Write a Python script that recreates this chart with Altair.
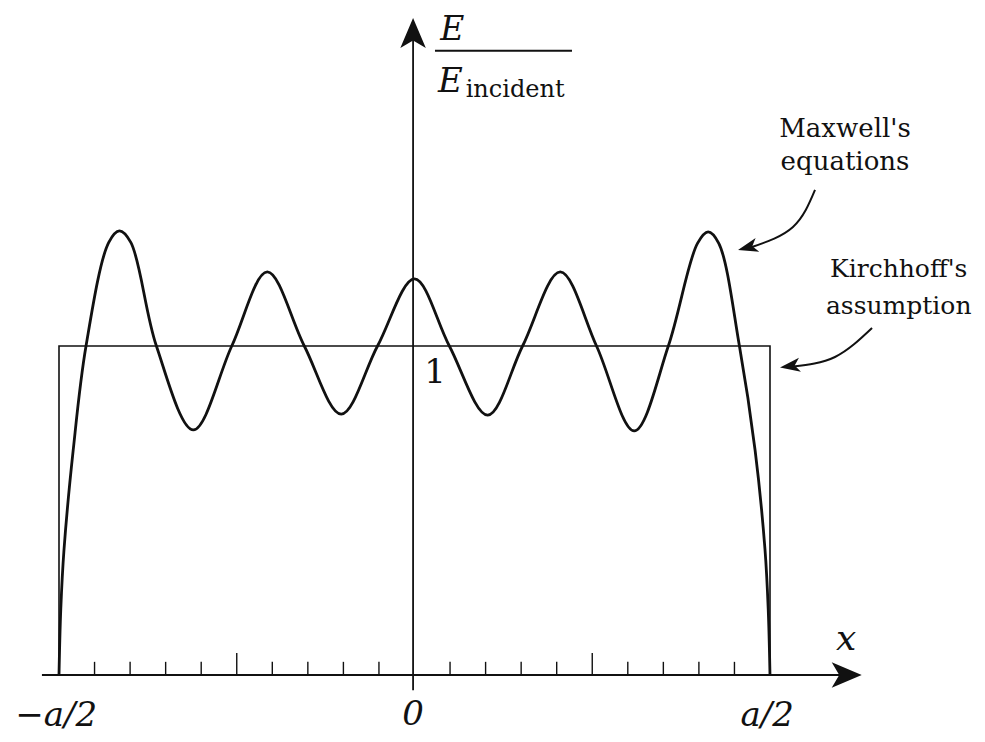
import altair as alt
import pandas as pd

# ---- data (x in units of a, y in units of E_incident) ----
maxwell_x = [-0.500, -0.4975, -0.493, -0.480, -0.462, -0.430, -0.415, -0.399, -0.363, -0.311,
             -0.257, -0.207, -0.155, -0.103, -0.052, 0.000, 0.049, 0.103, 0.152, 0.205,
             0.256, 0.309, 0.357, 0.398, 0.413, 0.428, 0.457, 0.479, 0.493, 0.4975, 0.500]
maxwell_y = [0.00, 0.20, 0.38, 0.684, 1.00, 1.315, 1.35, 1.315, 1.00, 0.745,
             1.00, 1.225, 1.00, 0.793, 1.00, 1.204, 1.00, 0.790, 1.00, 1.225,
             1.00, 0.742, 1.00, 1.312, 1.347, 1.312, 1.00, 0.684, 0.38, 0.20, 0.00]

kirchhoff_x = [-0.5, -0.5, 0.5, 0.5]
kirchhoff_y = [0.0, 1.0, 1.0, 0.0]

tick_x = [-0.45, -0.40, -0.35, -0.30, -0.25, -0.20, -0.15, -0.10, -0.05,
          0.05, 0.10, 0.15, 0.20, 0.25, 0.30, 0.35, 0.40, 0.45]
tick_len = [0.04, 0.04, 0.04, 0.04, 0.067, 0.04, 0.04, 0.04, 0.04,
            0.04, 0.04, 0.04, 0.04, 0.067, 0.04, 0.04, 0.04, 0.04]

axis_labels = ["\u2212a/2", "0", "a/2"]
axis_label_x = [-0.504, -0.002, 0.496]

# annotation curves (data coordinates)
mx_arrow_x = [0.5633, 0.5323, 0.4747]
mx_arrow_y = [1.4742, 1.3617, 1.3009]
kh_arrow_x = [0.6435, 0.5914, 0.5323]
kh_arrow_y = [1.0547, 0.9666, 0.9377]

# ---- scales ----
W, H = 969, 725
PX_X, PX_Y = 711.0, 329.0
X0 = -(414.5 - 8) / PX_X
X1 = X0 + W / PX_X
Y1 = (675 - 8) / PX_Y
Y0 = Y1 - H / PX_Y
xs = alt.Scale(domain=[X0, X1], nice=False, zero=False)
ys = alt.Scale(domain=[Y0, Y1], nice=False, zero=False)

def X(field):
    return alt.X(field, type="quantitative", scale=xs, axis=None)

def Y(field):
    return alt.Y(field, type="quantitative", scale=ys, axis=None)

INK = "#111111"
SERIF = "DejaVu Serif"

# Kirchhoff rectangle
kdf = pd.DataFrame({"x": kirchhoff_x, "y": kirchhoff_y, "i": range(len(kirchhoff_x))})
kirch = alt.Chart(kdf).mark_line(color=INK, strokeWidth=1.6).encode(
    x=X("x"), y=Y("y"), order="i:Q")

# Maxwell curve
mdf = pd.DataFrame({"x": maxwell_x, "y": maxwell_y, "i": range(len(maxwell_x))})
maxw = alt.Chart(mdf).mark_line(color=INK, strokeWidth=2.8, interpolate="catmull-rom").encode(
    x=X("x"), y=Y("y"), order="i:Q")

# axes
xaxis = alt.Chart(pd.DataFrame({"x": [-0.524], "x2": [0.60], "y": [0.0]})).mark_rule(
    color=INK, strokeWidth=2).encode(x=X("x"), x2="x2:Q", y=Y("y"))
yaxis = alt.Chart(pd.DataFrame({"x": [-0.002], "y": [-0.046], "y2": [1.95]})).mark_rule(
    color=INK, strokeWidth=1.8).encode(x=X("x"), y=Y("y"), y2="y2:Q")

tdf = pd.DataFrame({"x": tick_x, "y": [0.0] * len(tick_x), "y2": tick_len})
ticks = alt.Chart(tdf).mark_rule(color=INK, strokeWidth=1.4).encode(
    x=X("x"), y=Y("y"), y2="y2:Q")

# arrow heads (tip at the symbol origin, pointing up before rotation)
AX_HEAD = "M0,0 L0.85,2 L0,1.5 L-0.85,2 Z"
AN_HEAD = "M0,0 L0.6,1.7 L0,1.25 L-0.6,1.7 Z"
heads_df = pd.DataFrame({
    "x": [-0.002, 0.629],
    "y": [1.997, 0.0],
    "ang": [0, 90],
})
axis_heads = alt.Chart(heads_df).mark_point(
    shape=AX_HEAD, filled=True, color=INK, size=900, opacity=1).encode(
    x=X("x"), y=Y("y"), angle=alt.Angle("ang:Q", scale=None))

an_heads_df = pd.DataFrame({
    "x": [0.4550, 0.5141],
    "y": [1.2918, 0.9347],
    "ang": [255, 262],
})
ann_heads = alt.Chart(an_heads_df).mark_point(
    shape=AN_HEAD, filled=True, color=INK, size=560, opacity=1).encode(
    x=X("x"), y=Y("y"), angle=alt.Angle("ang:Q", scale=None))

# annotation curves
adf = pd.DataFrame({
    "x": mx_arrow_x + kh_arrow_x,
    "y": mx_arrow_y + kh_arrow_y,
    "g": ["m"] * 3 + ["k"] * 3,
    "i": [0, 1, 2, 0, 1, 2],
})
ann_lines = alt.Chart(adf).mark_line(color=INK, strokeWidth=2, interpolate="natural").encode(
    x=X("x"), y=Y("y"), detail="g:N", order="i:Q")

# axis value labels
ldf = pd.DataFrame({"x": axis_label_x, "y": [-0.155, -0.152, -0.155], "t": axis_labels})
labels = alt.Chart(ldf).mark_text(
    font=SERIF, fontStyle="italic", fontSize=34, color=INK,
    align="center", baseline="alphabetic").encode(x=X("x"), y=Y("y"), text="t:N")

xlab = alt.Chart(pd.DataFrame({"x": [0.607], "y": [0.076], "t": ["x"]})).mark_text(
    font=SERIF, fontStyle="italic", fontSize=36, color=INK,
    align="center", baseline="alphabetic").encode(x=X("x"), y=Y("y"), text="t:N")

one = alt.Chart(pd.DataFrame({"x": [0.029], "y": [0.888], "t": ["1"]})).mark_text(
    font=SERIF, fontSize=34, color=INK,
    align="center", baseline="alphabetic").encode(x=X("x"), y=Y("y"), text="t:N")

# y label: E / E_incident
e_top = alt.Chart(pd.DataFrame({"x": [0.053], "y": [1.930], "t": ["E"]})).mark_text(
    font=SERIF, fontStyle="italic", fontSize=33, color=INK,
    align="center", baseline="alphabetic").encode(x=X("x"), y=Y("y"), text="t:N")
frac = alt.Chart(pd.DataFrame({"x": [0.0288], "x2": [0.2215], "y": [1.8976]})).mark_rule(
    color=INK, strokeWidth=2).encode(x=X("x"), x2="x2:Q", y=Y("y"))
e_bot = alt.Chart(pd.DataFrame({"x": [0.033], "y": [1.772], "t": ["E"]})).mark_text(
    font=SERIF, fontStyle="italic", fontSize=34, color=INK,
    align="left", baseline="alphabetic").encode(x=X("x"), y=Y("y"), text="t:N")
e_sub = alt.Chart(pd.DataFrame({"x": [0.072], "y": [1.757], "t": ["incident"]})).mark_text(
    font=SERIF, fontSize=24, color=INK,
    align="left", baseline="alphabetic").encode(x=X("x"), y=Y("y"), text="t:N")

# annotation text
ann_txt = pd.DataFrame({
    "x": [0.6055, 0.6055, 0.681, 0.681],
    "y": [1.635, 1.535, 1.210, 1.097],
    "t": ["Maxwell's", "equations", "Kirchhoff's", "assumption"],
    "s": [26, 26, 25, 25],
})
ann_text = alt.Chart(ann_txt).mark_text(
    font=SERIF, color=INK,
    align="center", baseline="alphabetic").encode(
    x=X("x"), y=Y("y"), text="t:N", size=alt.Size("s:Q", scale=None, legend=None))

chart = alt.layer(
    kirch, maxw, xaxis, yaxis, ticks, axis_heads, ann_lines, ann_heads,
    labels, xlab, one, e_top, frac, e_bot, e_sub, ann_text
).properties(
    width=W, height=H, padding=0, autosize=alt.AutoSizeParams(type="none"),
    background="white"
).configure_view(stroke=None)

chart.save("out.html", embed_options={"renderer": "svg", "actions": False})
